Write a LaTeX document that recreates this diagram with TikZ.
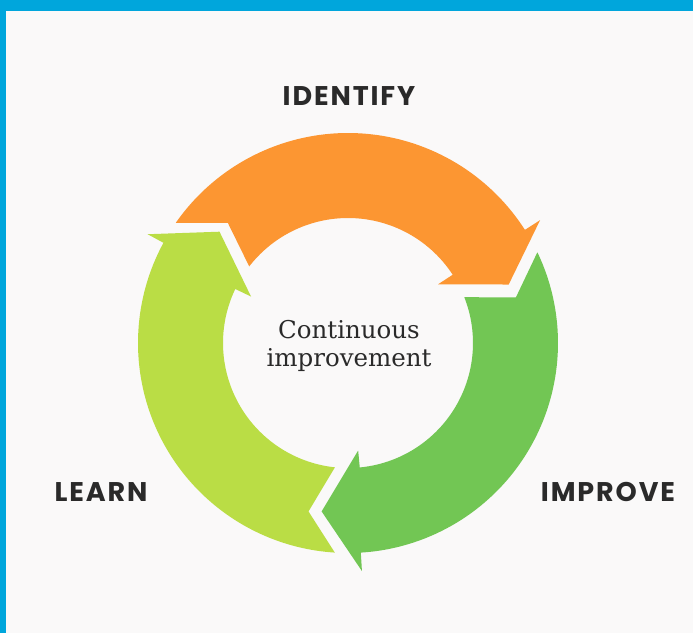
\documentclass[tikz,border=0pt]{standalone}
\usepackage{fontspec}
\newfontfamily\labfont{Poppins}[LetterSpace=7]
\newfontfamily\centerfont{DejaVu Serif}
\definecolor{bg}{HTML}{FAF9F9}
\definecolor{frameblue}{HTML}{00A6DC}
\definecolor{arrorange}{HTML}{FC9632}
\definecolor{arrgreen}{HTML}{72C654}
\definecolor{arrlime}{HTML}{BADD45}
\definecolor{txt}{HTML}{2A2A2A}
\begin{document}
\begin{tikzpicture}[x=1pt,y=1pt,
  label/.style={font=\labfont\bfseries\fontsize{27}{31}\selectfont, text=txt, inner sep=0pt}]
\useasboundingbox (-348,-290) rectangle (345,343);
\fill[bg] (-348,-290) rectangle (345,343);
\fill[frameblue] (-348,332) rectangle (345,343);
\fill[frameblue] (-348,-290) rectangle (-342,343);
% lime arrow (LEARN side)
\fill[arrlime] (266.4:210) arc[start angle=266.4, end angle=151.5, radius=210]
  -- (151.5:228) -- (139.1:170) -- (154.4:107.5) -- (154.4:125)
  arc[start angle=154.4, end angle=264, radius=125] -- (256.8:173) -- cycle;
% orange arrow (IDENTIFY side)
\fill[arrorange] (145.1:210) arc[start angle=145.1, end angle=32.6, radius=210]
  -- (32.6:228) -- (20.0:171) -- (33.1:107.5) -- (33.1:125)
  arc[start angle=33.1, end angle=142.2, radius=125] -- (135:170) -- cycle;
% green arrow (IMPROVE side)
\fill[arrgreen] (25.6:210) arc[start angle=25.6, end angle=-86.5, radius=210]
  -- (-86.5:228.5) -- (-98.9:170.5) -- (-84.6:108) -- (-84.6:125)
  arc[start angle=-84.6, end angle=21.5, radius=125] -- (15.2:174) -- cycle;
\node[label] (identify) at (1,247) {IDENTIFY};
\node[label] (learn) at (-247,-149) {LEARN};
\node[label] (improve) at (260,-149) {IMPROVE};
\node[font=\centerfont\fontsize{24.5}{28}\selectfont, text=txt, align=center, inner sep=0pt] (center) at (1,-3) {Continuous\\improvement};
\end{tikzpicture}
\end{document}
